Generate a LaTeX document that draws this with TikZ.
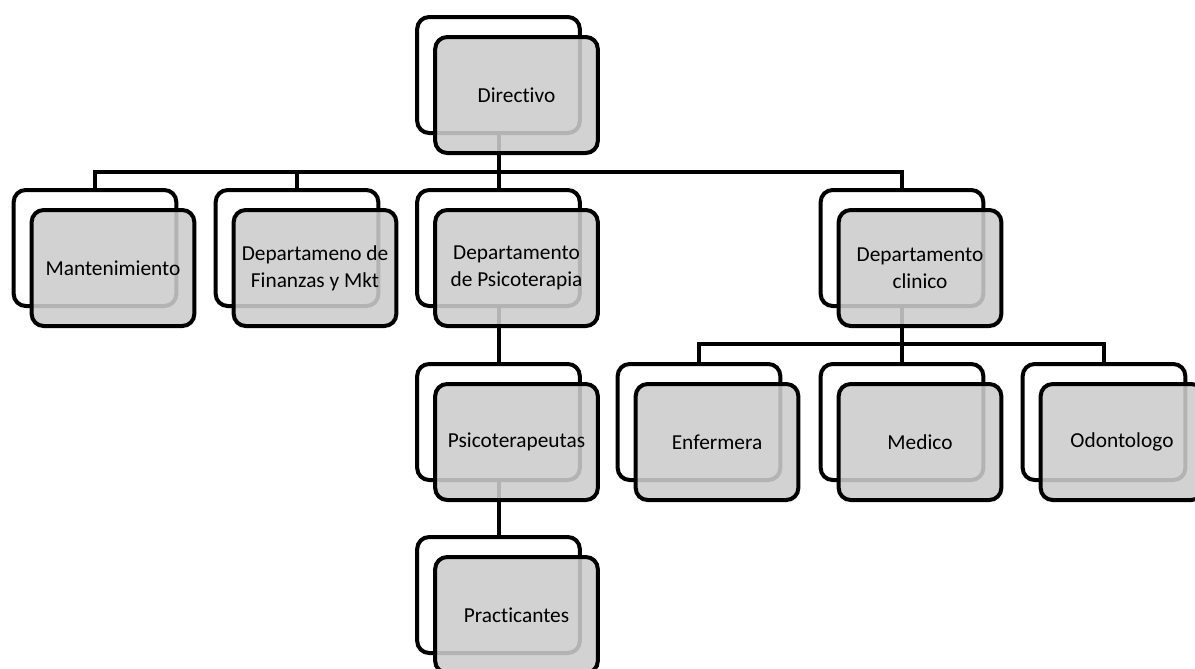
\documentclass[tikz,border=0pt]{standalone}
\usepackage{fontspec}
\setmainfont{Carlito}[Ligatures=NoCommon]
\usetikzlibrary{positioning}
\tikzset{
  %define style for the back boxes
  cajaatras/.style={
    rectangle,
    rounded corners=9pt,
    draw=black, line width=3pt,
    fill=white,
    minimum width=122pt,
    minimum height=87pt},
  %define style for the front boxes
  cajafrente/.style={
    cajaatras,
    fill=black!20,
    fill opacity=0.88,
    text opacity=1,
    align=center,
    font=\fontsize{16}{20}\selectfont},
  %define style for connectors
  conector/.style={
    draw=black,
    line width=3pt}
}
\begin{document}
\begin{tikzpicture}[x=0.75pt, y=-0.75pt]
\useasboundingbox (0,0) rectangle (1195,668);
%back boxes
\node[cajaatras] (directivoB) at (498.5,75) {};
\node[cajaatras] (mantB) at (95,248) {};
\node[cajaatras] (finB) at (297,248) {};
\node[cajaatras] (psicoB) at (498.5,248) {};
\node[cajaatras] (clinB) at (902,248) {};
\node[cajaatras] (terapB) at (498.5,422) {};
\node[cajaatras] (practB) at (498.5,595) {};
\node[cajaatras] (enfB) at (699,422) {};
\node[cajaatras] (medB) at (902,422) {};
\node[cajaatras] (odoB) at (1104,422) {};

%connectors
\coordinate (bus1) at (0,172);
\coordinate (bus2) at (0,344);
\draw[conector] (mantB.north) -- (mantB.north |- bus1) -- (clinB.north |- bus1) -- (clinB.north);
\draw[conector] (finB.north) -- (finB.north |- bus1);
\draw[conector] (directivoB.south) -- (psicoB.north);
\draw[conector] (psicoB.south) -- (terapB.north);
\draw[conector] (terapB.south) -- (practB.north);
\draw[conector] (enfB.north) -- (enfB.north |- bus2) -- (odoB.north |- bus2) -- (odoB.north);
\draw[conector] (clinB.south) -- (medB.north);

%front boxes
\node[cajafrente] (directivo) at ([shift={(18,20)}]directivoB) {Directivo};
\node[cajafrente] (mant) at ([shift={(18,20)}]mantB) {Mantenimiento};
\node[cajafrente] (fin) at ([shift={(18,20)}]finB) {Departameno de\\Finanzas y Mkt};
\node[cajafrente] (psico) at ([shift={(18,20)}]psicoB) {Departamento\\de Psicoterapia};
\node[cajafrente] (clin) at ([shift={(18,20)}]clinB) {Departamento\\clinico};
\node[cajafrente] (terap) at ([shift={(18,20)}]terapB) {Psicoterapeutas};
\node[cajafrente] (pract) at ([shift={(18,20)}]practB) {Practicantes};
\node[cajafrente] (enf) at ([shift={(18,20)}]enfB) {Enfermera};
\node[cajafrente] (med) at ([shift={(18,20)}]medB) {Medico};
\node[cajafrente] (odo) at ([shift={(18,20)}]odoB) {Odontologo};
\end{tikzpicture}
\end{document}
